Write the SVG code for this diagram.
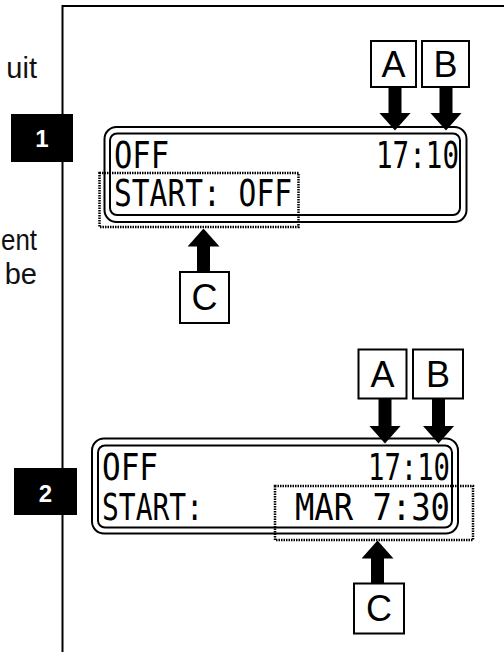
<svg xmlns="http://www.w3.org/2000/svg" width="504" height="652" viewBox="0 0 504 652">
<style>
.frame{stroke:#000;stroke-width:2;fill:none}
.side{font-family:"Liberation Sans",Arial,sans-serif;font-size:29px;fill:#111}
.badge rect{fill:#000}
.badge text{font-family:"Liberation Sans",Arial,sans-serif;font-size:24px;font-weight:bold;fill:#fff;text-anchor:middle}
.lcd-out{fill:#fff;stroke:#000;stroke-width:2}
.lcd-in{fill:none;stroke:#000;stroke-width:2}
.lcd{font-family:"DejaVu Sans Mono","Liberation Mono",monospace;font-size:37px;fill:#000}
.dot{fill:none;stroke:#000;stroke-width:2.5;stroke-dasharray:1.5 1}
.lbl rect{fill:#fff;stroke:#000;stroke-width:2}
.lbl text{font-family:"Liberation Sans",Arial,sans-serif;font-size:36px;fill:#000;text-anchor:middle}
.arr{stroke:#000;stroke-width:13;fill:none;marker-end:url(#head)}
</style>
<defs>
<marker id="head" viewBox="0 0 18 32" refX="0.5" refY="16" markerWidth="18" markerHeight="32" markerUnits="userSpaceOnUse" orient="auto">
<path d="M0,0 L18,16 L0,32 Z" fill="#000"/>
</marker>
</defs>
<rect width="504" height="652" fill="#fff"/>
<g id="frame">
<path class="frame" d="M62.5,652 V6 H504"/>
</g>
<g id="side-text">
<text class="side" x="37" y="78" text-anchor="end">uit</text>
<text class="side" x="1" y="250" textLength="36" lengthAdjust="spacingAndGlyphs">ent</text>
<text class="side" x="37" y="284" text-anchor="end">be</text>
</g>
<g id="badge1" class="badge">
<rect x="11" y="114" width="62" height="48"/>
<text x="42" y="147">1</text>
</g>
<g id="badge2" class="badge">
<rect x="14" y="468" width="63" height="47"/>
<text x="45.5" y="502">2</text>
</g>
<g id="display1">
<rect class="lcd-out" x="104.5" y="127" width="362" height="95" rx="12"/>
<rect class="lcd-in" x="110" y="133.5" width="350" height="81.5" rx="7"/>
<text class="lcd" x="114" y="168" textLength="55" lengthAdjust="spacingAndGlyphs">OFF</text>
<text class="lcd" x="376" y="168" textLength="83" lengthAdjust="spacingAndGlyphs">17:10</text>
<text class="lcd" x="114" y="206" textLength="178" lengthAdjust="spacingAndGlyphs">START: OFF</text>
</g>
<g id="highlight1">
<rect class="dot" x="99.5" y="173" width="199" height="54"/>
</g>
<g id="display2">
<rect class="lcd-out" x="92" y="438.5" width="366" height="95" rx="12"/>
<rect class="lcd-in" x="98" y="445.5" width="354" height="82" rx="7"/>
<text class="lcd" x="102" y="480" textLength="56" lengthAdjust="spacingAndGlyphs">OFF</text>
<text class="lcd" x="368" y="480" textLength="82" lengthAdjust="spacingAndGlyphs">17:10</text>
<text class="lcd" x="102" y="520" textLength="101" lengthAdjust="spacingAndGlyphs">START:</text>
<text class="lcd" x="295" y="520" textLength="155" lengthAdjust="spacingAndGlyphs">MAR 7:30</text>
</g>
<g id="highlight2">
<rect class="dot" x="275" y="486" width="198" height="54"/>
</g>
<g id="label-A1" class="lbl">
<rect x="371" y="41" width="45" height="46"/>
<text x="393.5" y="77">A</text>
</g>
<g id="label-B1" class="lbl">
<rect x="422" y="41" width="47" height="46"/>
<text x="445.5" y="77">B</text>
</g>
<g id="label-C1" class="lbl">
<rect x="180" y="272" width="49" height="51"/>
<text x="204.5" y="310">C</text>
</g>
<g id="label-A2" class="lbl">
<rect x="358.5" y="349.5" width="48" height="49"/>
<text x="382.5" y="387">A</text>
</g>
<g id="label-B2" class="lbl">
<rect x="413" y="349.5" width="50" height="49"/>
<text x="438" y="387">B</text>
</g>
<g id="label-C2" class="lbl">
<rect x="354" y="583.5" width="50" height="50"/>
<text x="379" y="621">C</text>
</g>
<g id="connectors">
<line class="arr" x1="395" y1="88" x2="395" y2="113"/>
<line class="arr" x1="446" y1="88" x2="446" y2="113"/>
<line class="arr" x1="203.5" y1="271" x2="203.5" y2="246"/>
<line class="arr" x1="385" y1="399" x2="385" y2="426"/>
<line class="arr" x1="438.5" y1="399" x2="438.5" y2="426"/>
<line class="arr" x1="377.5" y1="583" x2="377.5" y2="558"/>
</g>
</svg>
